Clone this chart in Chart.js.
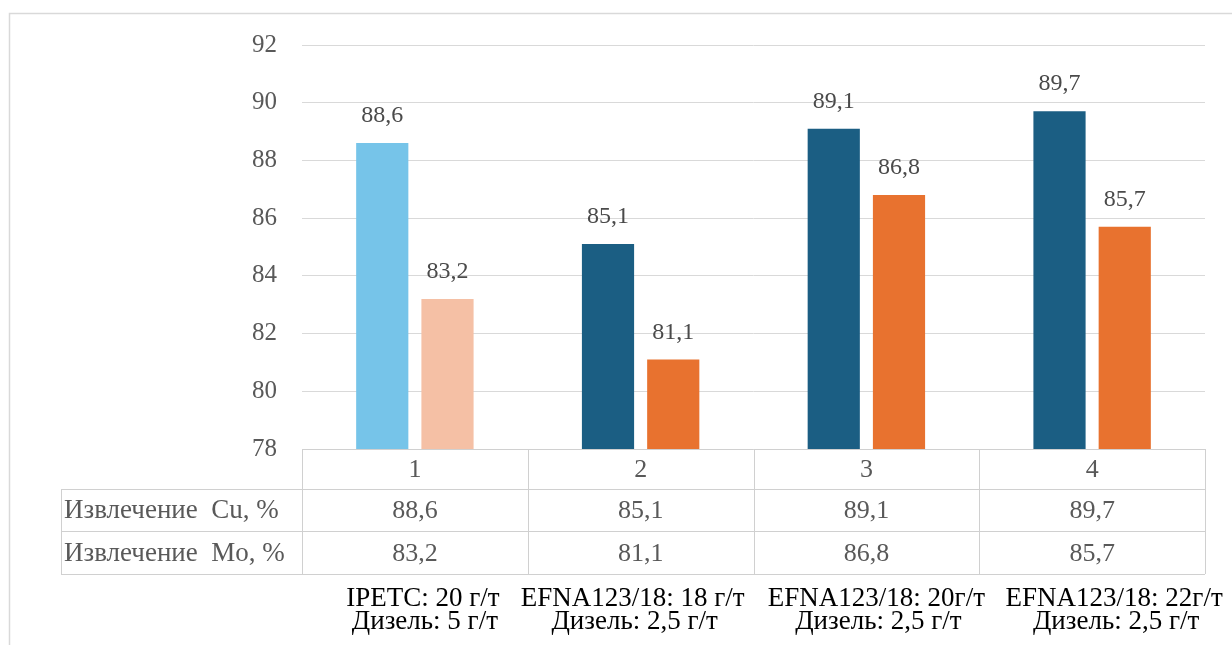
<!DOCTYPE html>
<html>
<head>
<meta charset="utf-8">
<script src="https://cdn.jsdelivr.net/npm/chart.js@4.4.1/dist/chart.umd.min.js"></script>
<style>
  html, body { margin: 0; padding: 0; background: #ffffff; }
  canvas { display: block; }
  .fontwarm { position: absolute; left: 0; top: 0; font-family: "Liberation Serif"; font-size: 24px; color: #ffffff; z-index: -1; }
</style>
</head>
<body>
<div class="fontwarm">Извлечение IPETC 0123456789</div>
<canvas id="chart" width="1232" height="645"></canvas>
<script>
// Опыты флотации: извлечение меди и молибдена
const categories = ['1', '2', '3', '4'];
const cuRecovery = [88.6, 85.1, 89.1, 89.7];
const moRecovery = [83.2, 81.1, 86.8, 85.7];
const rowLabels = ['Извлечение  Cu, %', 'Извлечение  Mo, %'];
const reagentLine = ['IPETC: 20 г/т', 'EFNA123/18: 18 г/т', 'EFNA123/18: 20г/т', 'EFNA123/18: 22г/т'];
const dieselLine = ['Дизель: 5 г/т', 'Дизель: 2,5 г/т', 'Дизель: 2,5 г/т', 'Дизель: 2,5 г/т'];
const yTicks = [78, 80, 82, 84, 86, 88, 90, 92];

const SERIF = '"Liberation Serif"';
const fmt = v => v.toFixed(1).replace('.', ',');

// Первый опыт (базовый реагент) выделен светлыми тонами
const cuColors = ['#76C4E9', '#1B5E83', '#1B5E83', '#1B5E83'];
const moColors = ['#F5C0A5', '#E8722F', '#E8722F', '#E8722F'];

// Подписи значений над столбцами
const valueLabels = {
  id: 'valueLabels',
  afterDatasetsDraw(chart) {
    const ctx = chart.ctx;
    ctx.save();
    ctx.font = '24px ' + SERIF;
    ctx.fillStyle = '#4a4a4a';
    ctx.textAlign = 'center';
    ctx.textBaseline = 'alphabetic';
    chart.data.datasets.forEach((ds, di) => {
      chart.getDatasetMeta(di).data.forEach((bar, i) => {
        ctx.fillText(fmt(ds.data[i]), bar.x, bar.y - 21);
      });
    });
    ctx.restore();
  }
};

// Таблица данных под осью, рамка и подписи условий опытов
const dataTable = {
  id: 'dataTable',
  afterDraw(chart) {
    const ctx = chart.ctx;
    const x = chart.scales.x;
    const area = chart.chartArea;
    const n = categories.length;
    const centers = categories.map((c, i) => x.getPixelForValue(i));
    const half = (centers[1] - centers[0]) / 2;
    const bounds = [centers[0] - half].concat(centers.map(c => c + half));
    const rowY = [area.bottom, area.bottom + 40, area.bottom + 82, area.bottom + 125];
    const labelLeft = 61;

    ctx.save();
    // внешняя рамка области диаграммы
    ctx.strokeStyle = '#d9d9d9';
    ctx.lineWidth = 1.5;
    ctx.beginPath();
    ctx.moveTo(9.5, 645);
    ctx.lineTo(9.5, 13.5);
    ctx.lineTo(1232, 13.5);
    ctx.stroke();

    // сетка таблицы
    ctx.strokeStyle = '#d0d0d0';
    ctx.lineWidth = 1;
    ctx.beginPath();
    ctx.moveTo(bounds[0], rowY[0] + 0.5); ctx.lineTo(bounds[n], rowY[0] + 0.5);
    for (let r = 1; r < rowY.length; r++) {
      ctx.moveTo(labelLeft, rowY[r] + 0.5); ctx.lineTo(bounds[n], rowY[r] + 0.5);
    }
    bounds.forEach(b => {
      ctx.moveTo(Math.round(b) + 0.5, rowY[0]); ctx.lineTo(Math.round(b) + 0.5, rowY[3]);
    });
    ctx.moveTo(labelLeft + 0.5, rowY[1]); ctx.lineTo(labelLeft + 0.5, rowY[3]);
    ctx.stroke();

    // текст таблицы
    ctx.font = '26px ' + SERIF;
    ctx.fillStyle = '#595959';
    ctx.textBaseline = 'alphabetic';
    ctx.textAlign = 'center';
    categories.forEach((c, i) => {
      ctx.fillText(c, centers[i], rowY[0] + 28);
      ctx.fillText(fmt(cuRecovery[i]), centers[i], rowY[1] + 29);
      ctx.fillText(fmt(moRecovery[i]), centers[i], rowY[2] + 30);
    });
    ctx.font = '27px ' + SERIF;
    ctx.textAlign = 'left';
    ctx.fillText(rowLabels[0], labelLeft + 3, rowY[1] + 29);
    ctx.fillText(rowLabels[1], labelLeft + 3, rowY[2] + 30);

    // условия опытов под таблицей
    const shift = [8, -8, 10, 22];
    ctx.font = '27px ' + SERIF;
    ctx.fillStyle = '#000000';
    ctx.textAlign = 'center';
    categories.forEach((c, i) => {
      ctx.fillText(reagentLine[i], centers[i] + shift[i], 606);
      ctx.fillText(dieselLine[i], centers[i] + shift[i] + 2, 629);
    });
    ctx.restore();
  }
};

const chart = new Chart(document.getElementById('chart'), {
  type: 'bar',
  data: {
    labels: categories,
    datasets: [
      { label: rowLabels[0], data: cuRecovery, backgroundColor: cuColors, categoryPercentage: 0.578, barPercentage: 0.8 },
      { label: rowLabels[1], data: moRecovery, backgroundColor: moColors, categoryPercentage: 0.578, barPercentage: 0.8 }
    ]
  },
  options: {
    responsive: false,
    animation: false,
    devicePixelRatio: 1,
    layout: { padding: { left: 0, top: 45, right: 27, bottom: 196 } },
    plugins: { legend: { display: false }, tooltip: { enabled: false } },
    scales: {
      x: { display: false },
      y: {
        min: yTicks[0],
        max: yTicks[yTicks.length - 1],
        afterFit(scale) { scale.width = 302; },
        afterBuildTicks(scale) { scale.ticks = yTicks.map(v => ({ value: v })); },
        border: { display: false },
        grid: { color: '#d9d9d9', lineWidth: 1, drawTicks: false },
        ticks: {
          padding: 25,
          color: '#595959',
          font: { family: SERIF, size: 25 },
          callback: v => String(v)
        }
      }
    }
  },
  plugins: [valueLabels, dataTable]
});

// перерисовка после загрузки шрифтов
const redraw = () => chart.update('none');
if (document.fonts && document.fonts.ready) document.fonts.ready.then(redraw);
window.addEventListener('load', () => { redraw(); setTimeout(redraw, 50); });
</script>
</body>
</html>
